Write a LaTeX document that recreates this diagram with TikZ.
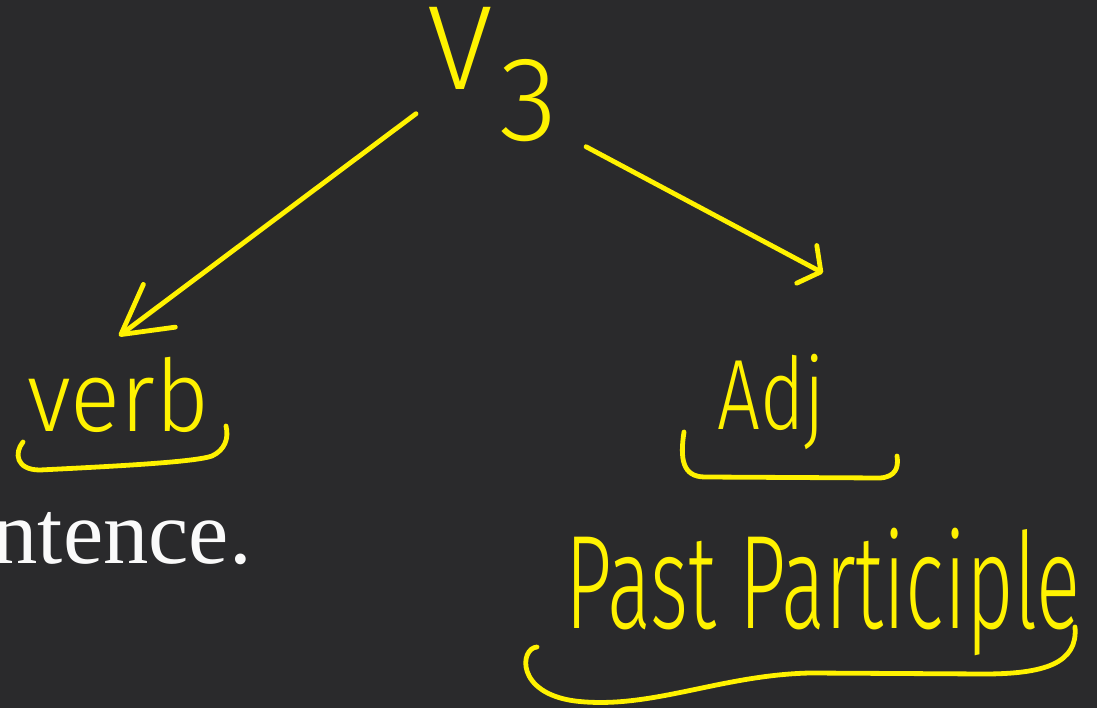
\documentclass[tikz,border=0pt]{standalone}
\usepackage{fontspec}
\setmainfont{Liberation Serif}
\newfontfamily\handfont{Fira Sans Light}
\usepackage{xcolor}
\definecolor{board-dark}{RGB}{42,42,44}
\definecolor{pen-yellow}{RGB}{255,242,0}
\definecolor{slide-white}{RGB}{250,250,250}
\usepackage{tikz}
\usetikzlibrary{arrows.meta,positioning}

\begin{document}
\begin{tikzpicture}[x=0.75pt, y=0.75pt,
    pen/.style={draw=pen-yellow, line width=3.6pt, line cap=round, line join=round},
    hand label/.style={text=pen-yellow, inner sep=0pt, font=\handfont\fontsize{#1}{#1}\selectfont},
    slide text/.style={text=slide-white, inner sep=0pt, font=\fontsize{#1}{#1}\selectfont}
]

% Board background, fixes the page size
\useasboundingbox (0,0) rectangle (1097,708);
\clip (0,0) rectangle (1097,708);
\fill[board-dark] (0,0) rectangle (1097,708);

% Slide text cut at the left edge
\node[slide text=68pt, anchor=base east] (tail) at (252,145) {ntence.};

% Handwritten labels
\node[hand label=90pt, anchor=north west] (v3) at (427,701) {V\hspace{5pt}\raisebox{-38pt}{3}};
\node[hand label=75pt, xscale=0.93, anchor=base west] (verb) at (27,276) {verb};
\node[hand label=75pt, xscale=0.76, anchor=base west] (adj) at (717,278) {Adj};
\node[hand label=100pt, xscale=0.615, anchor=base west] (pp) at (565,80) {Past Participle};

% Arrow ends
\coordinate (verb tip) at (119,372);
\coordinate (adj tip) at (823,435);

\draw[pen, -{Straight Barb[round, length=36pt, width=40pt]}]
    ([shift={(-11,28)}]v3.south west) -- (verb tip);
\draw[pen, -{Straight Barb[round, length=12pt, width=32pt]}]
    ([shift={(28,-5)}]v3.south east) -- (adj tip);

% Braces under the words
\draw[pen] (23,266) .. controls (14,255) and (16,238) .. (40,238)
    .. controls (120,242) and (195,246) .. (212,252)
    .. controls (225,258) and (229,270) .. (226,282);
\draw[pen] (684,276) .. controls (680,250) and (682,231) .. (705,231)
    -- (880,230) .. controls (895,231) and (899,240) .. (897,252);
\draw[pen] (537,61) .. controls (520,60) and (515,15) .. (575,7)
    .. controls (650,-2) and (720,33) .. (810,35) -- (984,34)
    .. controls (1045,34) and (1078,45) .. (1075,81);

\end{tikzpicture}
\end{document}
